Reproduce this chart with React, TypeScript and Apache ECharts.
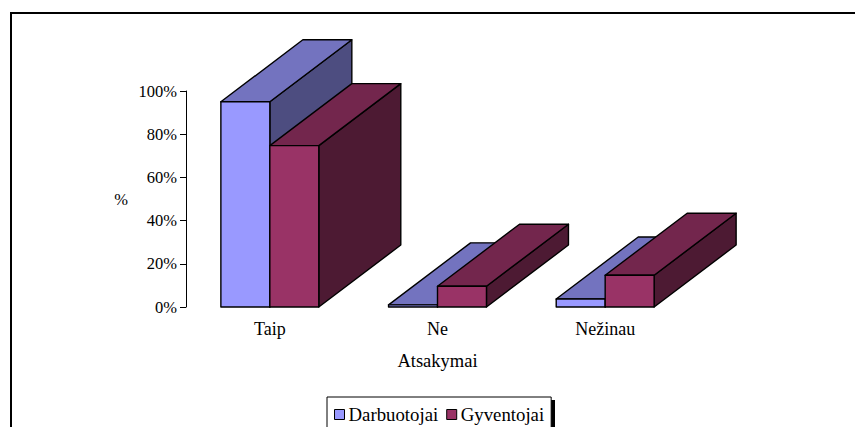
import React, { useEffect, useRef } from "react";
import * as echarts from "echarts";

const categories = ["Taip", "Ne", "Nežinau"];
const darbuotojai = [95, 1, 3.7];
const gyventojai = [74.7, 9.6, 14.7];
const yTicks = { min: 0, max: 100, interval: 20 };

const FONT = '"Liberation Serif", "Times New Roman", serif';
const DEPTH_X = 82;
const DEPTH_Y = 62;

function bar3d(index: number, front: string, top: string, side: string) {
  return (_params: any, api: any) => {
    const cat = api.value(0);
    const val = api.value(1);
    const band = api.size([1, 0])[0];
    const w = band * 0.292;
    const c0 = api.coord([cat, 0]);
    const c1 = api.coord([cat, val]);
    const x0 = c0[0] + (index === 0 ? -w : 0);
    const x1 = x0 + w;
    const yb = c0[1];
    const yt = c1[1];
    const line = { stroke: "#000", lineWidth: 1.4, lineJoin: "round" };
    return {
      type: "group",
      children: [
        {
          type: "polygon",
          shape: { points: [[x1, yb], [x1 + DEPTH_X, yb - DEPTH_Y], [x1 + DEPTH_X, yt - DEPTH_Y], [x1, yt]] },
          style: { fill: side, ...line },
        },
        {
          type: "polygon",
          shape: { points: [[x0, yt], [x1, yt], [x1 + DEPTH_X, yt - DEPTH_Y], [x0 + DEPTH_X, yt - DEPTH_Y]] },
          style: { fill: top, ...line },
        },
        {
          type: "rect",
          shape: { x: x0, y: yt, width: w, height: yb - yt },
          style: { fill: front, ...line },
        },
      ],
    };
  };
}

export default function App() {
  const ref = useRef<HTMLDivElement>(null);
  useEffect(() => {
    document.body.style.margin = "0";
    const chart = echarts.init(ref.current!, undefined, { renderer: "svg" });
    chart.setOption({
      animation: false,
      backgroundColor: "#fff",
      textStyle: { fontFamily: FONT },
      grid: { left: 186, top: 91, width: 503, height: 216, containLabel: false },
      xAxis: {
        type: "category",
        data: categories,
        axisLine: { show: false },
        axisTick: { show: false },
        axisLabel: { color: "#000", fontFamily: FONT, fontSize: 18, margin: 13 },
        name: "Atsakymai",
        nameLocation: "middle",
        nameGap: 44,
        nameTextStyle: { color: "#000", fontFamily: FONT, fontSize: 18.5 },
      },
      yAxis: {
        type: "value",
        ...yTicks,
        axisLine: { show: true, lineStyle: { color: "#000", width: 1 } },
        axisTick: { show: true, length: 6, lineStyle: { color: "#000", width: 1 } },
        splitLine: { show: false },
        axisLabel: { color: "#000", fontFamily: FONT, fontSize: 16.5, margin: 9, formatter: "{value}%" },
        name: "%",
        nameLocation: "middle",
        nameRotate: 0,
        nameGap: 58,
        nameTextStyle: { color: "#000", fontFamily: FONT, fontSize: 16.5 },
      },
      legend: {
        left: 327,
        top: 397,
        orient: "horizontal",
        itemWidth: 10,
        itemHeight: 10,
        itemGap: 8,
        padding: [8, 7, 14, 7],
        backgroundColor: "#fff",
        borderColor: "#000",
        borderWidth: 1,
        textStyle: { color: "#000", fontFamily: FONT, fontSize: 18.8, padding: [0, 0, 0, -1] },
        data: [
          { name: "Darbuotojai", icon: "rect", itemStyle: { color: "#9999FF", borderColor: "#000", borderWidth: 1 } },
          { name: "Gyventojai", icon: "rect", itemStyle: { color: "#993366", borderColor: "#000", borderWidth: 1 } },
        ],
      },
      graphic: [
        { type: "rect", silent: true, z: -1, shape: { x: 11, y: 13, width: 1000, height: 600 }, style: { fill: "none", stroke: "#000", lineWidth: 2 } },
        { type: "rect", silent: true, z: -1, shape: { x: 551, y: 400, width: 4, height: 40 }, style: { fill: "#000" } },
      ],
      series: [
        {
          type: "custom",
          name: "Darbuotojai",
          clip: false,
          itemStyle: { color: "#9999FF" },
          encode: { x: 0, y: 1 },
          data: darbuotojai.map((v, i) => [i, v]),
          renderItem: bar3d(0, "#9999FF", "#7373BF", "#4D4D80"),
        },
        {
          type: "custom",
          name: "Gyventojai",
          clip: false,
          itemStyle: { color: "#993366" },
          encode: { x: 0, y: 1 },
          data: gyventojai.map((v, i) => [i, v]),
          renderItem: bar3d(1, "#993366", "#73264D", "#4D1A33"),
        },
      ],
    });
    return () => chart.dispose();
  }, []);
  return <div ref={ref} style={{ width: 855, height: 427 }} />;
}
